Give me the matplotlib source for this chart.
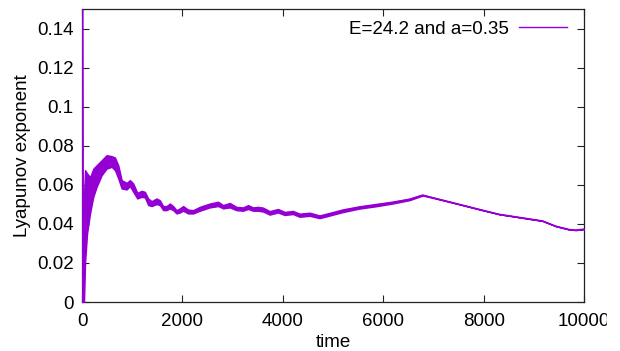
import numpy as np
import matplotlib.pyplot as plt
from matplotlib.patches import Rectangle

plt.rcParams['font.family'] = ['Liberation Sans', 'DejaVu Sans']

# values: time, lower and upper edge of the curve
time = [0, 8, 20, 40, 60, 100, 160, 225, 290, 390, 490, 590, 656, 722, 789, 888,
        954, 1020, 1100, 1187, 1252, 1318, 1385, 1484, 1550, 1616, 1683, 1749,
        1815, 1882, 1948, 2014, 2114, 2213, 2346, 2545, 2711, 2810, 2942, 3075,
        3207, 3307, 3406, 3505, 3605, 3738, 3903, 4036, 4201, 4334, 4533, 4731,
        4930, 5195, 5527, 5859, 6189, 6521, 6720, 6785, 7316, 7978, 8310, 8642,
        9171, 9437, 9702, 9834, 10000]
lower = [0.160, 0.000, 0.000, 0.000, 0.020, 0.035, 0.0455, 0.054, 0.059, 0.065, 0.0684,
         0.0693, 0.0676, 0.0633, 0.0582, 0.0577, 0.0594, 0.0565, 0.0531, 0.0539,
         0.0536, 0.0497, 0.0492, 0.0502, 0.0497, 0.0471, 0.0471, 0.0480, 0.0471,
         0.0454, 0.0459, 0.0468, 0.0454, 0.0454, 0.0468, 0.0485, 0.0492, 0.0480,
         0.0485, 0.0471, 0.0468, 0.0477, 0.0468, 0.0468, 0.0464, 0.0448, 0.0459,
         0.0446, 0.0451, 0.0437, 0.0442, 0.0430, 0.0443, 0.0461, 0.0479, 0.0491,
         0.0505, 0.0522, 0.0540, 0.0546, 0.0514, 0.0471, 0.0450, 0.0437, 0.0416,
         0.0389, 0.0372, 0.0369, 0.0374]
upper = [0.160, 0.000, 0.050, 0.055, 0.0676, 0.066, 0.064, 0.0684, 0.0701, 0.0727,
         0.0753, 0.0748, 0.0741, 0.0701, 0.0625, 0.0611, 0.0625, 0.0608, 0.0560,
         0.0570, 0.0565, 0.0531, 0.0517, 0.0531, 0.0522, 0.0492, 0.0492, 0.0505,
         0.0492, 0.0471, 0.0480, 0.0492, 0.0474, 0.0471, 0.0488, 0.0505, 0.0514,
         0.0497, 0.0508, 0.0488, 0.0485, 0.0497, 0.0485, 0.0488, 0.0484, 0.0466,
         0.0477, 0.0462, 0.0467, 0.0453, 0.0458, 0.0444, 0.0457, 0.0475, 0.0491,
         0.0503, 0.0515, 0.0530, 0.0546, 0.0550, 0.0514, 0.0471, 0.0450, 0.0437,
         0.0416, 0.0389, 0.0372, 0.0369, 0.0374]

col = '#9400d3'

fig = plt.figure(figsize=(6.2, 3.51), dpi=100)
ax = fig.add_axes([0.1323, 0.1396, 0.8097, 0.8334])

t = np.array(time)
lo = np.array(lower)
hi = np.array(upper)
ax.fill_between(t, lo, hi, color=col, lw=1.0, edgecolor=col, zorder=3)
ax.plot(t, (lo + hi) / 2, color=col, lw=1.0, label='E=24.2 and a=0.35', zorder=3)
ax.plot(t[:2], lo[:2], color=col, lw=1.6, zorder=3)

ax.set_xlim(0, 10000)
ax.set_ylim(0, 0.15)
ax.set_xticks([0, 2000, 4000, 6000, 8000, 10000])
ax.set_yticks([0, 0.02, 0.04, 0.06, 0.08, 0.1, 0.12, 0.14])
ax.set_yticklabels(['0', '0.02', '0.04', '0.06', '0.08', '0.1', '0.12', '0.14'])
ax.tick_params(direction='in', top=True, right=True, length=4.8, width=0.8,
               labelsize=13.5, color='#222222')
ax.tick_params(axis='x', pad=8)
ax.tick_params(axis='y', pad=6)
for s in ax.spines.values():
    s.set_linewidth(0.9)
    s.set_color('#222222')

ax.set_xlabel('time', fontsize=13.5, labelpad=2.5)
ax.set_ylabel('Lyapunov exponent', fontsize=13.5, labelpad=4)

ax.legend(loc='upper right', frameon=False, markerfirst=False, fontsize=13.5,
          handlelength=2.55, handletextpad=0.55, bbox_to_anchor=(0.989, 1.0),
          borderaxespad=0.2)

# the original output is cut just right of the last tick label
fig.add_artist(Rectangle((607 / 620, 0), 13 / 620, 0.12, color='white',
                         transform=fig.transFigure, zorder=10))

fig.savefig('out.png', dpi=100)
